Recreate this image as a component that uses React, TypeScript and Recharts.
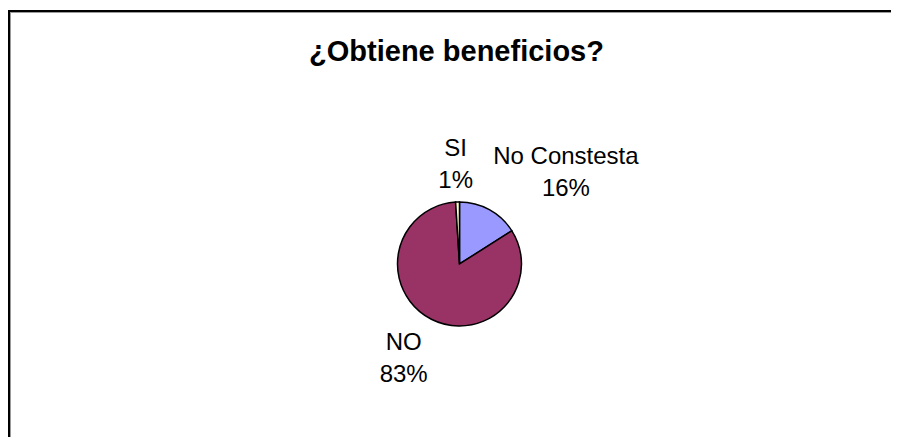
import { PieChart, Pie, Cell } from "recharts";

// respuestas de la encuesta (orden horario desde las 12)
const categories = ["No Constesta", "NO", "SI"];
const values = [16, 83, 1];
const sliceColors = ["#9999FF", "#993366", "#FFFFCC"];
const chartTitle = "¿Obtiene beneficios?";

const data = categories.map((name, i) => ({ name, value: values[i] }));

const LABEL_FONT = "24px 'Liberation Sans', Arial, sans-serif";

let ctx: CanvasRenderingContext2D | null = null;
function textWidth(s: string) {
  if (!ctx) ctx = document.createElement("canvas").getContext("2d");
  if (!ctx) return s.length * 13;
  ctx.font = LABEL_FONT;
  return ctx.measureText(s).width;
}

const clamp = (v: number) => Math.max(-1, Math.min(1, v));

// etiqueta estilo Excel: caja pegada al borde del pastel en el ángulo medio
function renderLabel(props: any) {
  const { cx, cy, midAngle, outerRadius, percent, name } = props;
  const RAD = Math.PI / 180;
  const c = Math.cos(midAngle * RAD);
  const s = Math.sin(midAngle * RAD);
  const r = outerRadius + 8;
  const px = cx + r * c;
  const py = cy - r * s;
  const pct = `${Math.round(percent * 100)}%`;
  const w = Math.max(textWidth(name), textWidth(pct));
  const h = 62;
  const bx = px + clamp(c * 3) * (w / 2);
  const by = py - clamp(s * 3) * (h / 2);
  return (
    <text
      textAnchor="middle"
      fill="#000"
      style={{ font: LABEL_FONT }}
    >
      <tspan x={bx} y={by - 7.5}>
        {name}
      </tspan>
      <tspan x={bx} y={by + 24.5}>
        {pct}
      </tspan>
    </text>
  );
}

export default function App() {
  return (
    <div
      style={{
        position: "relative",
        width: 891,
        height: 437,
        overflow: "hidden",
        background: "#fff",
        marginBottom: -8,
      }}
    >
      <style>{"body{overflow:hidden}"}</style>
      {/* marco del área del gráfico */}
      <div
        style={{
          position: "absolute",
          left: 0,
          top: 2,
          width: 2000,
          height: 2000,
          borderTop: "2px solid #000",
          borderLeft: "2px solid #000",
          boxShadow: "inset 1px 1px 0 #9a9a9a",
        }}
      />
      <div
        style={{
          position: "absolute",
          left: 0,
          top: 27,
          width: 897,
          textAlign: "center",
          font: "bold 29px 'Liberation Sans', Arial, sans-serif",
          lineHeight: "32px",
          color: "#000",
        }}
      >
        {chartTitle}
      </div>
      <div style={{ position: "absolute", left: 0, top: 0 }}>
        <PieChart
          width={891}
          height={437}
          margin={{ top: 0, right: 0, bottom: 0, left: 0 }}
        >
          <Pie
            data={data}
            dataKey="value"
            nameKey="name"
            cx={451.5}
            cy={256}
            outerRadius={62}
            startAngle={90}
            endAngle={-270}
            stroke="#000"
            strokeWidth={1.5}
            label={renderLabel}
            labelLine={false}
            isAnimationActive={false}
          >
            {data.map((_, i) => (
              <Cell key={i} fill={sliceColors[i]} />
            ))}
          </Pie>
        </PieChart>
      </div>
    </div>
  );
}
